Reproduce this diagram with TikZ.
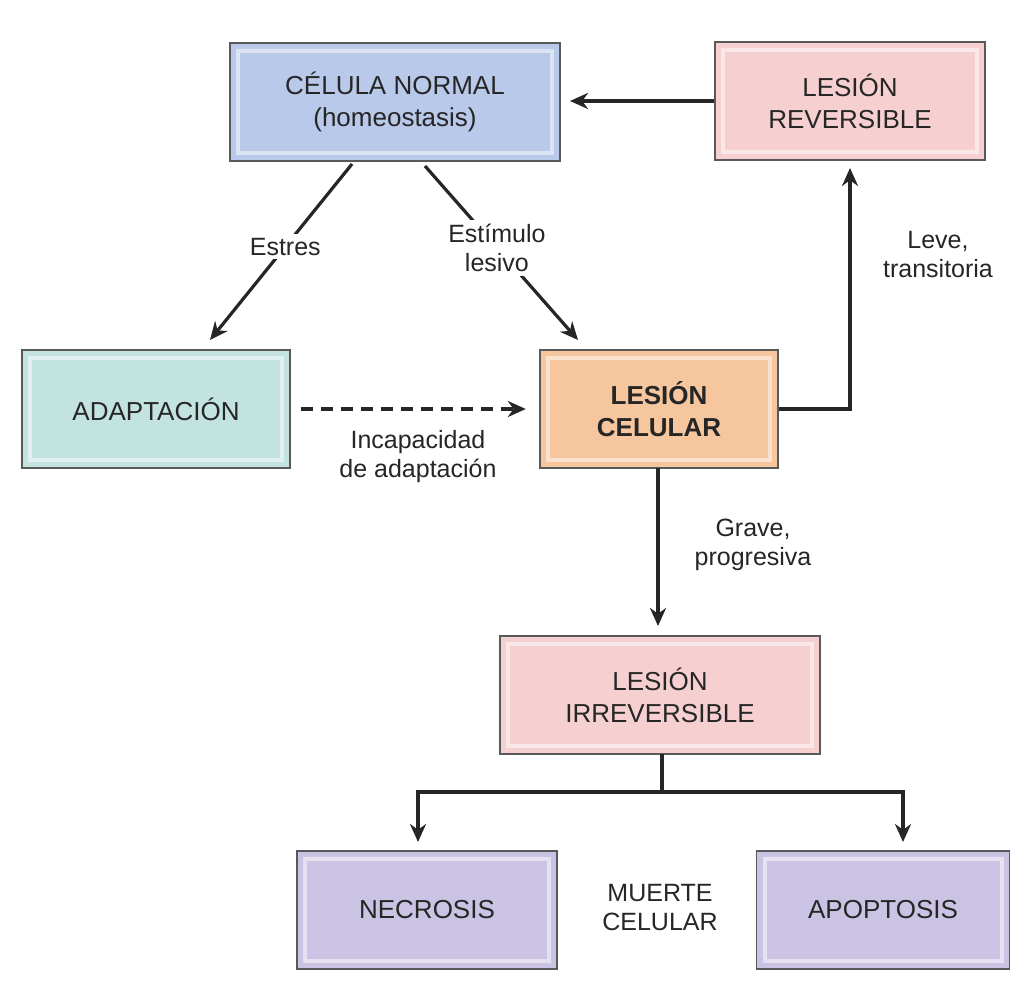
\documentclass[tikz,border=0pt]{standalone}
\usepackage{fontspec}
\setmainfont{Liberation Sans}
\usetikzlibrary{arrows.meta}
\definecolor{cblue}{HTML}{B9C9EA}
\definecolor{cpink}{HTML}{F6CFD0}
\definecolor{cteal}{HTML}{C2E3DF}
\definecolor{corange}{HTML}{F6C69E}
\definecolor{cviolet}{HTML}{CBC3E3}
\tikzset{
  x=0.5pt,y=-0.5pt,
  box/.style={draw=gray!70!black,line width=0.8pt,minimum width=#1*0.5pt,align=center,
    font=\fontsize{13}{16}\selectfont,text=black!85,
    inner sep=0pt,minimum height=59pt,
    path picture={\draw[white,opacity=0.5,line width=2pt]
      ([xshift=4pt,yshift=-4pt]path picture bounding box.north west) rectangle
      ([xshift=-4pt,yshift=4pt]path picture bounding box.south east);}},
  arr/.style={-{Stealth[length=9pt,width=8pt]},line width=1.6pt,black!85},
  lbl/.style={fill=white,align=center,inner sep=2pt,font=\fontsize{12.5}{14.5}\selectfont,text=black!85},
}
\begin{document}
\begin{tikzpicture}
\useasboundingbox[fill=white] (0,0) rectangle (1036,1000);
\node[box=330,fill=cblue] (cn) at (395,102) {CÉLULA NORMAL\\(homeostasis)};
\node[box=270,fill=cpink] (lr) at (850,101) {LESIÓN\\REVERSIBLE};
\node[box=268,fill=cteal] (ad) at (156,409) {ADAPTACIÓN};
\node[box=238,fill=corange,font=\fontsize{13}{16}\selectfont\bfseries] (lc) at (659,409) {LESIÓN\\CELULAR};
\node[box=320,fill=cpink] (li) at (660,695) {LESIÓN\\IRREVERSIBLE};
\node[box=260,fill=cviolet] (ne) at (427,910) {NECROSIS};
\node[box=253,fill=cviolet] (ap) at (883,910) {APOPTOSIS};
\node[font=\fontsize{12.5}{14.5}\selectfont,align=center,text=black!85] (mc) at (660,908) {MUERTE\\CELULAR};
\coordinate (a1) at (352,164); \coordinate (a2) at (210,340);
\coordinate (b1) at (425,166); \coordinate (b2) at (578,340);
\draw[arr] (lr.west) -- (570,101);
\draw[arr] (a1) -- node[lbl,pos=0.47]{Estres} (a2);
\draw[arr] (b1) -- node[lbl,pos=0.47]{Estímulo\\lesivo} (b2);
\draw[arr,dash pattern=on 6pt off 4pt] (ad.east)++(10,0) -- ++(225,0);
\node[lbl] (ia) at (418,457) {Incapacidad\\de adaptación};
\draw[arr] (lc.east) -- (850,409) -- (850,168);
\node[lbl] (lt) at (938,255) {Leve,\\transitoria};
\draw[arr] (658,468) -- (658,626);
\node[lbl] (gp) at (753,545) {Grave,\\progresiva};
\draw[line width=1.6pt,black!85] (662,754) -- (662,792);
\draw[arr] (662,792) -- (418,792) -- (418,842);
\draw[arr] (662,792) -- (903,792) -- (903,842);
\end{tikzpicture}
\end{document}
